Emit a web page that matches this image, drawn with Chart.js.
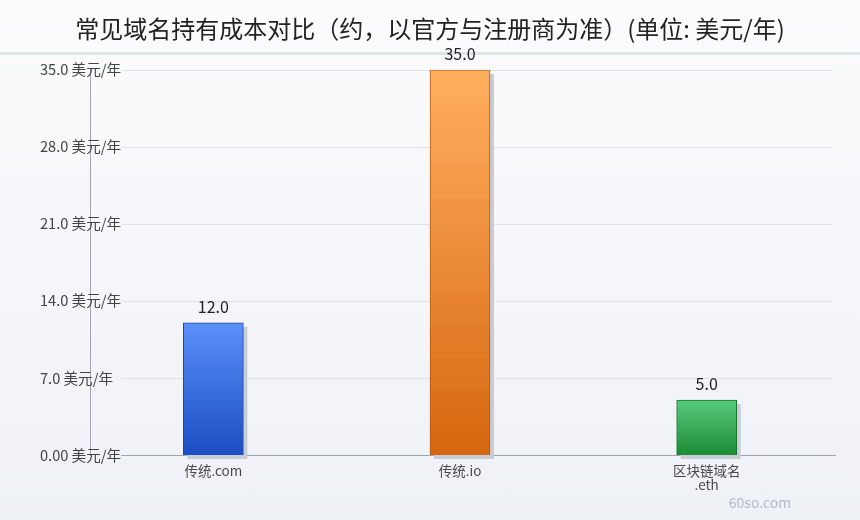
<!DOCTYPE html>
<html>
<head>
<meta charset="utf-8">
<script src="https://cdn.jsdelivr.net/npm/chart.js@4.4.0/dist/chart.umd.min.js"></script>
<style>
  html, body { margin: 0; padding: 0; }
  body { background: linear-gradient(#fcfcfd, #eef1f6); }
  #wrap { width: 860px; height: 520px; position: relative; }
</style>
</head>
<body>
<div id="wrap"><canvas id="chart-cost"></canvas></div>
<script>
const categories = ['传统.com', '传统.io', ['区块链域名', '.eth']];
const costs = [12.0, 35.0, 5.0];
const yTickLabels = ['0.00 美元/年', '7.0 美元/年', '14.0 美元/年', '21.0 美元/年', '28.0 美元/年', '35.0 美元/年'];

const FONT = '"Noto Sans CJK SC", "Noto Sans", sans-serif';
// top / bottom / border colour per bar
const barColors = [
    ['#5b8ff9', '#1a4cc2', '#1d46a8'],
    ['#ffae5e', '#d5650e', '#b15a14'],
    ['#55c97a', '#1c8a34', '#1b7430']
];

function mix(a, b, t) {
    const pa = [1, 3, 5].map(i => parseInt(a.substr(i, 2), 16));
    const pb = [1, 3, 5].map(i => parseInt(b.substr(i, 2), 16));
    return 'rgb(' + pa.map((v, i) => Math.round(v + (pb[i] - v) * t)).join(',') + ')';
}

function barFill(ctx) {
    const chart = ctx.chart;
    const i = ctx.dataIndex;
    const c = barColors[i];
    if (!chart.chartArea || ctx.type !== 'data') return c[0];
    const y = chart.scales.y;
    const top = y.getPixelForValue(costs[i]);
    const bottom = y.getPixelForValue(0);
    const g = chart.ctx.createLinearGradient(0, top, 0, bottom);
    // soft banding, like the original
    const steps = 12;
    for (let s = 0; s < steps; s++) {
        g.addColorStop(s / steps, mix(c[0], c[1], s / steps));
        g.addColorStop((s + 1) / steps - 0.001, mix(c[0], c[1], (s + 0.6) / steps));
    }
    return g;
}

const decor = {
    id: 'decor',
    beforeDraw(chart) {
        const ctx = chart.ctx;
        ctx.save();
        ctx.fillStyle = '#dfe3ea';
        ctx.fillRect(0, 52, chart.width, 3);
        ctx.restore();
    },
    beforeDatasetsDraw(chart) {
        const ctx = chart.ctx;
        const area = chart.chartArea;
        const y = chart.scales.y;
        ctx.save();
        // grid lines start after the tick labels
        y.ticks.forEach(t => {
            const py = Math.round(y.getPixelForValue(t.value)) + 0.5;
            ctx.beginPath();
            if (t.value === 0) {
                ctx.strokeStyle = '#9ea4b0';
                ctx.moveTo(area.left + 31, py);
                ctx.lineTo(area.right + 6, py);
            } else {
                ctx.strokeStyle = '#dde1e9';
                ctx.moveTo(area.left + 32, py);
                ctx.lineTo(area.right + 2, py);
            }
            ctx.lineWidth = 1;
            ctx.stroke();
        });
        // bar shadows
        ctx.fillStyle = '#c8ccd5';
        chart.getDatasetMeta(0).data.forEach(bar => {
            ctx.fillRect(bar.x - bar.width / 2 + 4, bar.y + 4, bar.width, bar.base - bar.y);
        });
        ctx.restore();
    },
    afterDatasetsDraw(chart) {
        const ctx = chart.ctx;
        ctx.save();
        ctx.font = '16px ' + FONT;
        ctx.fillStyle = '#222';
        ctx.textAlign = 'center';
        ctx.textBaseline = 'middle';
        chart.getDatasetMeta(0).data.forEach((bar, i) => {
            ctx.fillText(costs[i].toFixed(1), bar.x, bar.y - 16);
        });
        ctx.font = '14px ' + FONT;
        ctx.fillStyle = '#b3bbca';
        ctx.fillText('60so.com', 760, 503);
        ctx.restore();
    }
};

const config = {
    type: 'bar',
    data: {
        labels: categories,
        datasets: [{
            data: costs,
            backgroundColor: barFill,
            borderColor: barColors.map(c => c[2]),
            borderWidth: 1,
            barThickness: 60
        }]
    },
    options: {
        responsive: true,
        maintainAspectRatio: false,
        animation: false,
        plugins: {
            legend: { display: false },
            tooltip: { enabled: false },
            title: {
                display: true,
                text: '常见域名持有成本对比（约，以官方与注册商为准）(单位: 美元/年)',
                color: '#222',
                font: { family: FONT, size: 24, weight: 'normal' },
                padding: { top: 14, bottom: 27 }
            }
        },
        scales: {
            x: {
                grid: { display: false, drawTicks: false },
                border: { display: false },
                afterFit(scale) { scale.height = 65; },
                ticks: {
                    color: '#4a4a4a',
                    font: { family: FONT, size: 13.5, lineHeight: 1.1 },
                    padding: 8,
                    maxRotation: 0
                }
            },
            y: {
                min: 0,
                max: 35,
                afterFit(scale) { scale.width = 90; },
                grid: { display: false, drawTicks: false },
                border: { display: true, color: '#9ea4b0', width: 1 },
                ticks: {
                    stepSize: 7,
                    mirror: true,
                    padding: -50,
                    color: '#444',
                    font: { family: FONT, size: 14.6 },
                    callback: (v, i) => yTickLabels[i]
                }
            },
            // empty right-hand gutter so the plot ends at 830px
            gutter: {
                type: 'linear',
                position: 'right',
                afterFit(scale) { scale.width = 30; },
                grid: { display: false, drawTicks: false },
                border: { display: false },
                ticks: { display: false }
            }
        }
    },
    plugins: [decor]
};

const myChart = new Chart(document.getElementById('chart-cost'), config);
</script>
</body>
</html>
